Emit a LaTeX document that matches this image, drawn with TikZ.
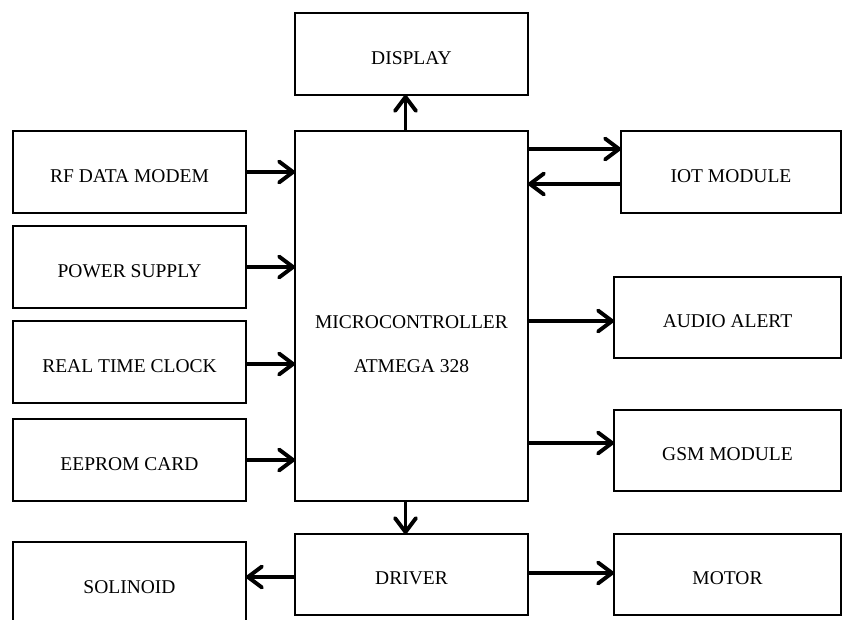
\documentclass[tikz,border=0pt]{standalone}
\usepackage{fontspec}
\setmainfont{Liberation Serif}
\usetikzlibrary{arrows.meta}
\begin{document}
\begin{tikzpicture}[x=1pt,y=-1pt,
  blk/.style={draw=black, line width=2.9pt, rectangle, inner sep=0pt, outer sep=0pt,
    minimum height=82pt, text height=20pt, text depth=0pt, font=\fontsize{19.5}{22}\selectfont},
  wide/.style={minimum width=233pt},
  conn/.style={line width=3.9pt, -{Straight Barb[length=14pt,width=21pt,round]}}
]
\useasboundingbox (0,0) rectangle (843,619);
\node[blk,wide] (display) at (411.5,54) {DISPLAY};
\node[blk,wide] (rf) at (129.5,172) {RF DATA MODEM};
\node[blk,wide] (power) at (129.5,267) {POWER SUPPLY};
\node[blk,wide] (rtc) at (129.5,362) {REAL TIME CLOCK};
\node[blk,wide] (eeprom) at (129.5,460) {EEPROM CARD};
\node[blk,wide,minimum height=370pt] (micro) at (411.5,316) {};
\node[font=\fontsize{19.5}{44}\selectfont, align=center] (microtext) at (411.5,344) {MICROCONTROLLER\\ATMEGA 328};
\node[blk,minimum width=220pt] (iot) at (731,172) {IOT MODULE};
\node[blk,minimum width=227pt,minimum height=81pt] (audio) at (727.5,317.5) {AUDIO ALERT};
\node[blk,minimum width=227pt,minimum height=81pt] (gsm) at (727.5,450.5) {GSM MODULE};
\node[blk,wide,minimum height=81pt] (driver) at (411.5,574.5) {DRIVER};
\node[blk,wide,minimum height=82pt] (solinoid) at (129.5,583) {SOLINOID};
\node[blk,minimum width=227pt,minimum height=81pt] (motor) at (727.5,574.5) {MOTOR};

\draw[conn] ([xshift=-6pt]micro.north) -- ([xshift=-6pt]display.south);
\draw[conn] (rf.east) -- (rf.east -| micro.west);
\draw[conn] (power.east) -- (power.east -| micro.west);
\draw[conn] ([yshift=-2pt]rtc.east) -- ([yshift=-2pt]rtc.east -| micro.west);
\draw[conn] (eeprom.east) -- (eeprom.east -| micro.west);
\draw[conn] ([yshift=23pt]iot.west -| micro.east) -- ([yshift=23pt]iot.west);
\draw[conn] ([yshift=-12pt]iot.west) -- ([yshift=-12pt]iot.west -| micro.east);
\draw[conn] ([yshift=-3.5pt]audio.west -| micro.east) -- ([yshift=-3.5pt]audio.west);
\draw[conn] ([yshift=7.5pt]gsm.west -| micro.east) -- ([yshift=7.5pt]gsm.west);
\draw[conn] ([xshift=-6pt]micro.south) -- ([xshift=-6pt]driver.north);
\draw[conn] ([yshift=-2.5pt]driver.west) -- ([yshift=-2.5pt]driver.west -| solinoid.east);
\draw[conn] ([yshift=1.5pt]driver.east) -- ([yshift=1.5pt]driver.east -| motor.west);
\end{tikzpicture}
\end{document}
